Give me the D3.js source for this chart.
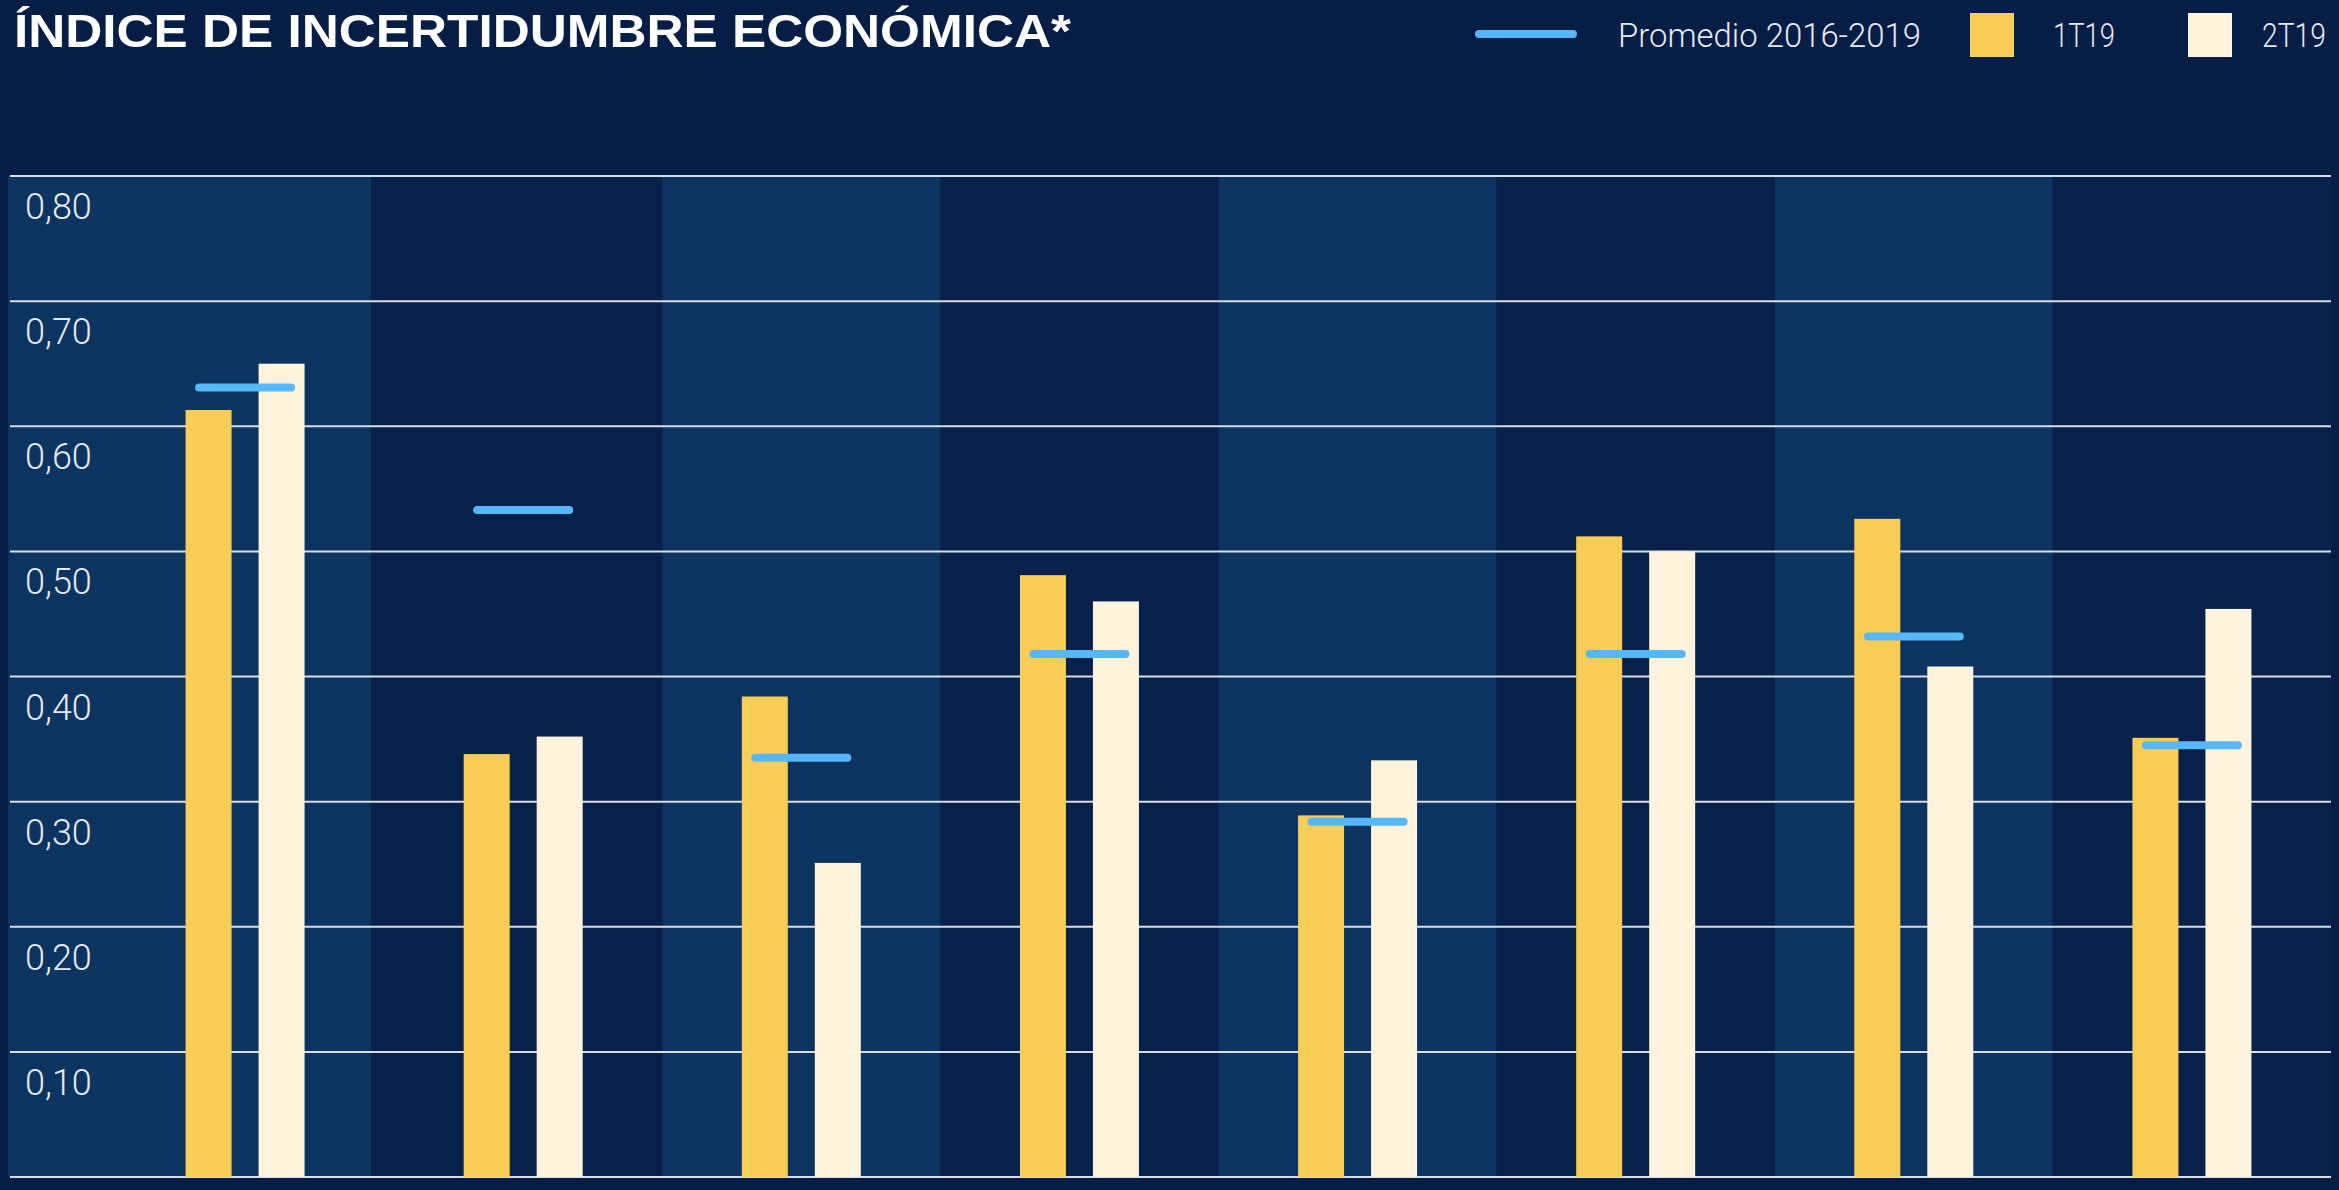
<!DOCTYPE html>
<html>
<head>
  <meta charset="UTF-8">
  <style>
    html, body { margin: 0; padding: 0; background: #061e45; overflow: hidden; }
    svg { display: block; }
  </style>
</head>
<body>
<svg></svg>
<script src="https://d3js.org/d3.v7.min.js"></script>

<script>

let width = 2339, height = 1190;

// data
const categories = ["G1", "G2", "G3", "G4", "G5", "G6", "G7", "G8"];
const valores1T19 = [0.613, 0.338, 0.384, 0.481, 0.289, 0.512, 0.526, 0.351];
const valores2T19 = [0.650, 0.352, 0.251, 0.460, 0.333, 0.500, 0.408, 0.454];
const promedio = [0.631, 0.533, 0.335, 0.418, 0.284, 0.418, 0.432, 0.345];
const yTicks = [0, 0.1, 0.2, 0.3, 0.4, 0.5, 0.6, 0.7, 0.8];
const legendLabels = ["Promedio 2016-2019", "1T19", "2T19"];

const colors = {yellow: "#f8cd55", cream: "#fef3dd", blue: "#56b8fa",
    bandLight: "#0b3461", bandDark: "#07214a", grid: "#d9dde5"};

let svg = d3.select("svg")
    .attr("width", width)
    .attr("height", height)
    .attr("viewBox", "0 0 " + width + " " + height);

let x = d3.scaleBand().domain(categories).range([106, 2331]);
let y = d3.scaleLinear().domain([0, 0.8]).range([1177, 176]);

let es = d3.formatLocale({decimal: ",", thousands: ".", grouping: [3], currency: ["", "€"]});
let fmt = es.format(".2f");

// alternating background bands (first one reaches under the axis labels)
svg.append("g")
    .selectAll("rect")
    .data(categories)
    .enter()
        .append("rect")
        .attr("x", (d, i) => i == 0 ? 8 : (i == 1 ? x(d) - 13 : x(d)))
        .attr("width", (d, i) => i == 0 ? x(categories[1]) - 13 - 8 : (i == 1 ? x.bandwidth() + 13 : x.bandwidth()))
        .attr("y", y(0.8))
        .attr("height", y(0) - y(0.8))
        .attr("fill", (d, i) => i % 2 == 0 ? colors.bandLight : colors.bandDark);

// gridlines
svg.append("g")
    .selectAll("line")
    .data(yTicks)
    .enter()
        .append("line")
        .attr("x1", 10)
        .attr("x2", 2331)
        .attr("y1", d => y(d))
        .attr("y2", d => y(d))
        .attr("stroke", colors.grid)
        .attr("stroke-width", 2);

// tick labels
svg.append("g")
    .selectAll("text")
    .data(yTicks.filter(d => d > 0))
    .enter()
        .append("text")
        .attr("x", 25)
        .attr("y", d => y(d) + 43)
        .attr("fill", "#e6e9ef")
        .style("font-family", "Roboto, 'Noto Sans', sans-serif")
        .style("font-weight", 300)
        .style("font-size", "36px")
        .text(d => fmt(d));

let barW = 46, gap = 27;

let bars = svg.append("g");
bars.selectAll(".b1")
    .data(valores1T19)
    .enter()
        .append("rect")
        .attr("x", (d, i) => x(categories[i]) + x.bandwidth() / 2 - gap / 2 - barW)
        .attr("width", barW)
        .attr("y", d => y(d))
        .attr("height", d => y(0) - y(d))
        .attr("fill", colors.yellow);

bars.selectAll(".b2")
    .data(valores2T19)
    .enter()
        .append("rect")
        .attr("x", (d, i) => x(categories[i]) + x.bandwidth() / 2 + gap / 2)
        .attr("width", barW)
        .attr("y", d => y(d))
        .attr("height", d => y(0) - y(d))
        .attr("fill", colors.cream);

// average markers
svg.append("g")
    .selectAll("line")
    .data(promedio)
    .enter()
        .append("line")
        .attr("x1", (d, i) => x(categories[i]) + x.bandwidth() / 2 - 46)
        .attr("x2", (d, i) => x(categories[i]) + x.bandwidth() / 2 + 46)
        .attr("y1", d => y(d))
        .attr("y2", d => y(d))
        .attr("stroke", colors.blue)
        .attr("stroke-width", 8)
        .attr("stroke-linecap", "round");

// title
svg.append("text")
    .attr("x", 14)
    .attr("y", 47)
    .attr("fill", "#ffffff")
    .attr("textLength", 1057)
    .attr("lengthAdjust", "spacingAndGlyphs")
    .style("font-family", "'Liberation Sans', Arial, sans-serif")
    .style("font-weight", "bold")
    .style("font-size", "46px")
    .text("ÍNDICE DE INCERTIDUMBRE ECONÓMICA*");

// legend
let legend = svg.append("g");
legend.append("line")
    .attr("x1", 1479).attr("x2", 1573)
    .attr("y1", 34).attr("y2", 34)
    .attr("stroke", colors.blue)
    .attr("stroke-width", 8)
    .attr("stroke-linecap", "round");
legend.append("rect")
    .attr("x", 1970).attr("y", 13).attr("width", 44).attr("height", 44)
    .attr("fill", colors.yellow);
legend.append("rect")
    .attr("x", 2188).attr("y", 13).attr("width", 44).attr("height", 44)
    .attr("fill", colors.cream);

let legendX = [1618, 2053, 2262];
let legendW = [303, 62, 64];
legend.selectAll("text")
    .data(legendLabels)
    .enter()
        .append("text")
        .attr("x", (d, i) => legendX[i])
        .attr("y", 47)
        .attr("textLength", (d, i) => legendW[i])
        .attr("lengthAdjust", "spacingAndGlyphs")
        .attr("fill", "#e6e9ef")
        .style("font-family", "Roboto, 'Noto Sans', sans-serif")
        .style("font-weight", 300)
        .style("font-size", "34px")
        .text(d => d);

</script>

</body>
</html>
